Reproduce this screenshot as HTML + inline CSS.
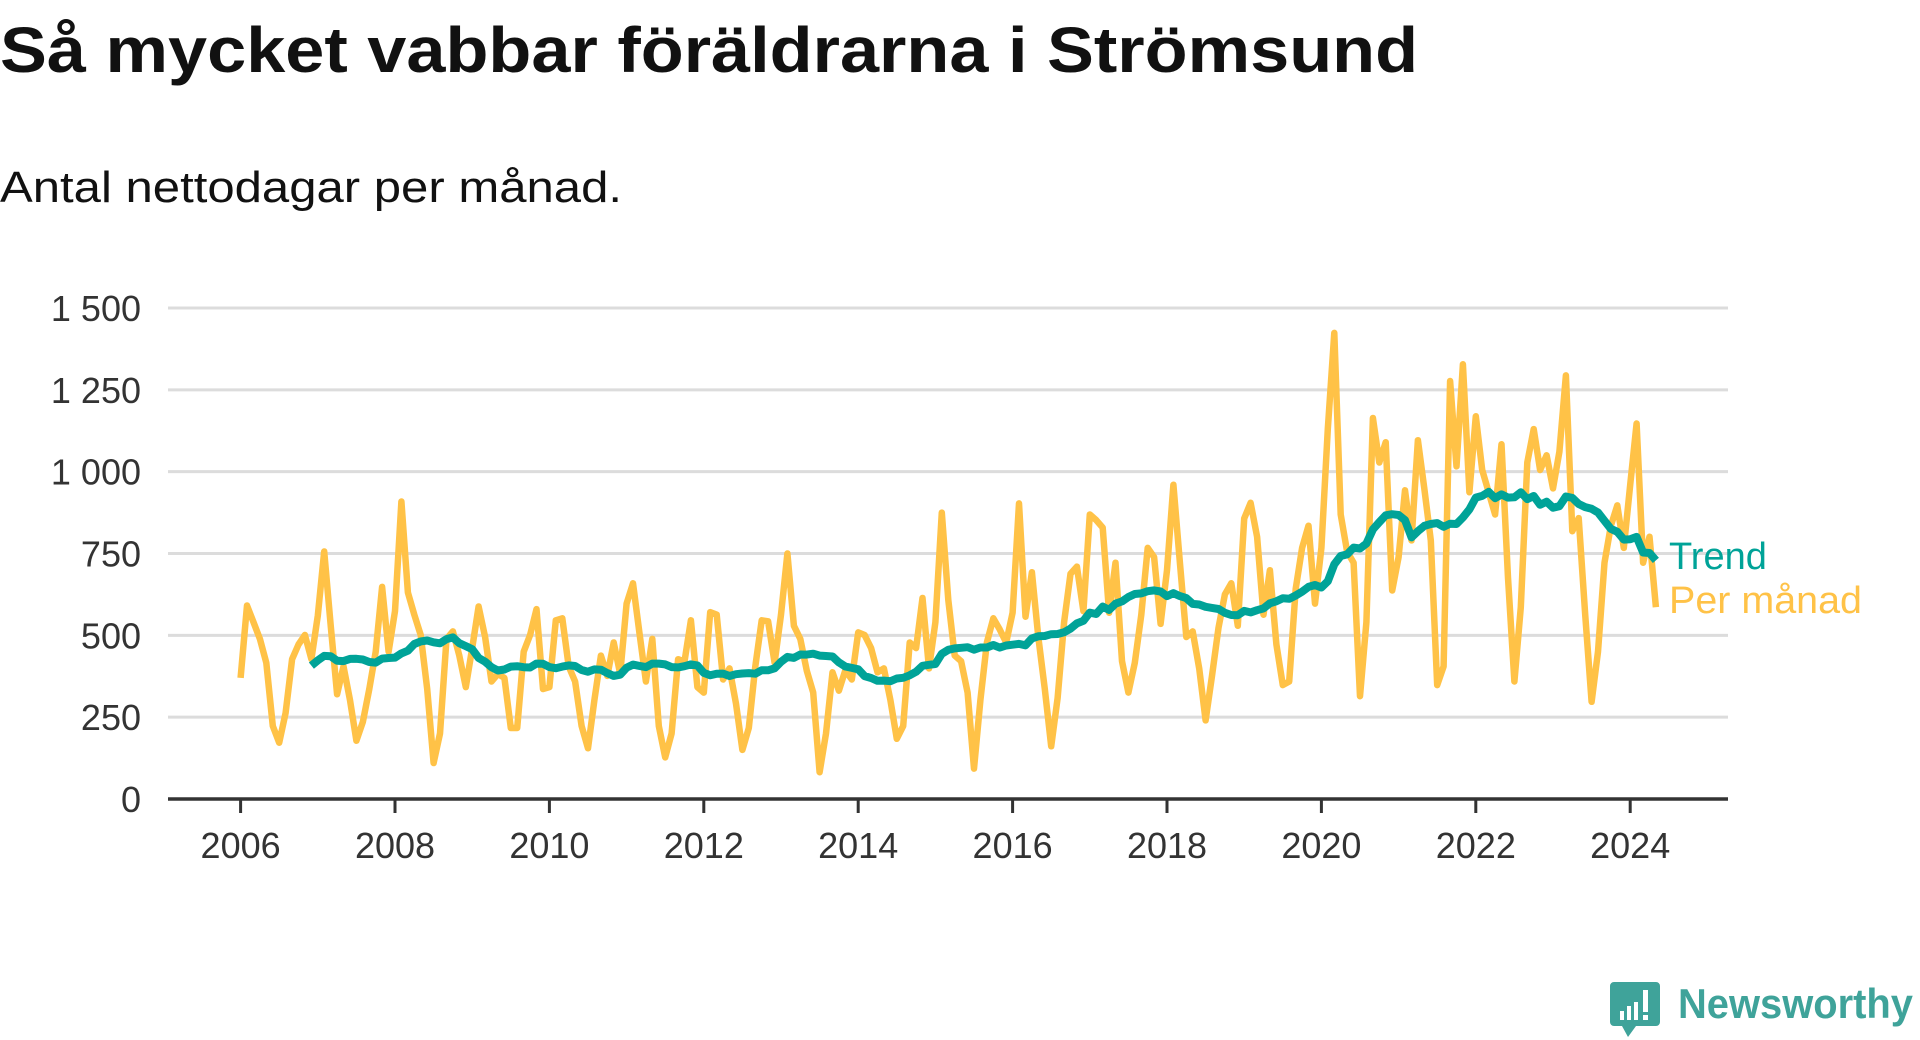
<!DOCTYPE html>
<html><head><meta charset="utf-8"><style>
html,body{margin:0;padding:0;background:#fff;}
svg{display:block;font-family:"Liberation Sans",sans-serif;}
</style></head><body>
<svg id="chart" width="1920" height="1040" viewBox="0 0 1920 1040" xmlns="http://www.w3.org/2000/svg">
<text x="0" y="72" font-size="64" font-weight="bold" fill="#111" textLength="1418" lengthAdjust="spacingAndGlyphs">Så mycket vabbar föräldrarna i Strömsund</text>
<text x="0" y="202" font-size="44" fill="#111" textLength="622" lengthAdjust="spacingAndGlyphs">Antal nettodagar per månad.</text>
<g id="grid"></g>
<g id="series"></g>
<g id="axes"></g>
<text x="1669" y="569" font-size="38" fill="#00A398">Trend</text>
<text x="1669" y="613" font-size="38" fill="#FFC247" textLength="193" lengthAdjust="spacingAndGlyphs">Per månad</text>
<g>
<path d="M1614,982 h42 a4,4 0 0 1 4,4 v36 a4,4 0 0 1 -4,4 h-20 l-8,11 l-6,-11 h-8 a4,4 0 0 1 -4,-4 v-36 a4,4 0 0 1 4,-4z" fill="#3FA39A"/>
<rect x="1620" y="1011" width="4" height="9" fill="#fff"/>
<rect x="1627" y="1006" width="4" height="14" fill="#fff"/>
<rect x="1634" y="1002" width="4" height="18" fill="#fff"/>
<rect x="1643" y="990" width="5" height="22" fill="#fff"/>
<rect x="1643" y="1015" width="5" height="5" fill="#fff"/>
<text x="1678" y="1018" font-size="42" font-weight="bold" fill="#3FA39A" textLength="235" lengthAdjust="spacingAndGlyphs">Newsworthy</text>
</g>
</svg>
<script>
const startYear = 2006;
const monthlyValues = [
370,591,540,489,416,223,172,263,427,472,501,427,
560,756,530,320,405,302,178,235,336,450,648,450,
574,909,631,563,501,336,110,200,489,512,438,342,
461,588,495,359,382,370,217,217,450,501,580,336,
342,546,552,405,359,223,155,302,438,376,478,382,
597,659,506,359,489,223,127,200,427,420,546,342,
325,571,563,365,399,291,150,217,405,546,543,416,
563,750,529,489,393,325,82,200,387,331,393,365,
509,501,461,387,399,302,184,223,478,461,614,399,
540,875,608,438,421,325,93,302,478,552,518,478,
569,903,557,693,495,336,161,308,540,688,710,574,
869,852,829,569,722,421,325,416,563,767,739,535,
699,960,722,495,512,399,240,376,523,625,659,529,
857,905,801,563,699,472,348,359,642,767,835,597,
767,1130,1424,869,756,722,314,540,1164,1028,1090,637,
739,943,790,1096,949,790,348,405,1277,1016,1328,937,
1169,1005,937,869,1084,676,359,586,1028,1130,1005,1050,
949,1061,1294,818,858,563,297,450,722,835,897,767,
960,1147,722,801,586];
const yTicks = [0,250,500,750,1000,1250,1500];
const yTickLabels = ["0","250","500","750","1 000","1 250","1 500"];
const xTicks = [2006,2008,2010,2012,2014,2016,2018,2020,2022,2024];
const trendWindow = 12;

const NS = "http://www.w3.org/2000/svg";
function xScale(t){ return 240.6 + (t - 2006) * 77.2; }
function yScale(v){ return 799 - v * (491 / 1500); }
function mk(tag, attrs, parent){ const e = document.createElementNS(NS, tag); for (const k in attrs) e.setAttribute(k, attrs[k]); parent.appendChild(e); return e; }

const grid = document.getElementById('grid');
const axes = document.getElementById('axes');
const series = document.getElementById('series');

yTicks.forEach((v, i) => {
  if (v > 0) {
    const l = mk('line', {x1:168, x2:1728, y1:yScale(v), y2:yScale(v), stroke:'#dcdcdc', 'stroke-width':3}, grid);
    
    
  }
  const t = mk('text', {x:141, y:yScale(v) + 13, 'text-anchor':'end', 'font-size':36, fill:'#333'}, axes);
  t.textContent = yTickLabels[i];
  
  
});

const axisLine = mk('line', {x1:168, x2:1728, y1:799, y2:799, stroke:'#333', 'stroke-width':3.5}, axes);



xTicks.forEach(yr => {
  const x = xScale(yr);
  const tk = mk('line', {x1:x, x2:x, y1:799, y2:813, stroke:'#333', 'stroke-width':3}, axes);
  
  
  const t = mk('text', {x:x, y:858, 'text-anchor':'middle', 'font-size':36, fill:'#333'}, axes);
  t.textContent = String(yr);
  
  
});

function tOf(i){ return startYear + i / 12; }
let d = '';
monthlyValues.forEach((v, i) => { d += (i ? 'L' : 'M') + xScale(tOf(i)).toFixed(1) + ',' + yScale(v).toFixed(1); });
const monthly = mk('path', {d:d, fill:'none', stroke:'#FFC247', 'stroke-width':6.5, 'stroke-linejoin':'round'}, series);



let td = '';
for (let i = trendWindow - 1; i < monthlyValues.length; i++) {
  let s = 0;
  for (let j = i - trendWindow + 1; j <= i; j++) s += monthlyValues[j];
  const v = s / trendWindow;
  td += (i === trendWindow - 1 ? 'M' : 'L') + xScale(tOf(i)).toFixed(1) + ',' + yScale(v).toFixed(1);
}
const trend = mk('path', {d:td, fill:'none', stroke:'#00A398', 'stroke-width':8, 'stroke-linejoin':'round'}, series);


</script>
</body></html>
